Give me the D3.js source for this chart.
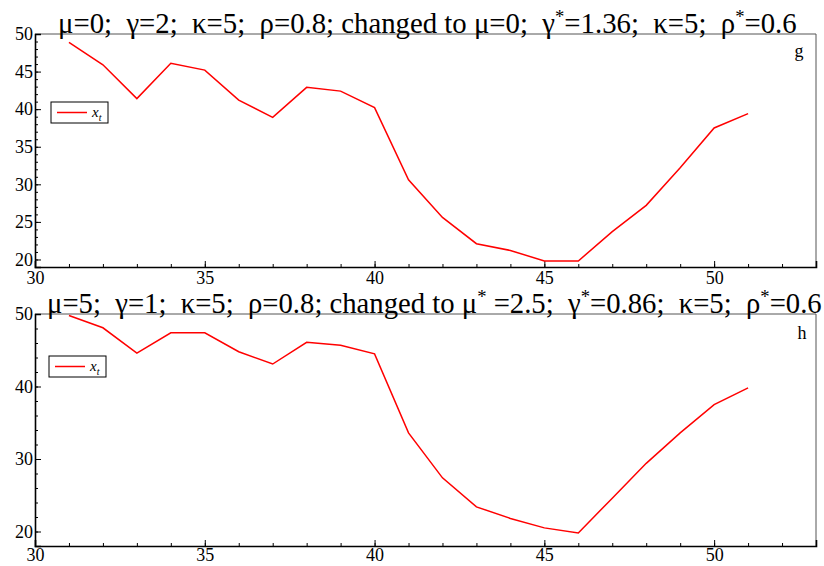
<!DOCTYPE html>
<html><head><meta charset="utf-8">
<script src="https://cdn.jsdelivr.net/npm/d3@7"></script>
<style>
body{margin:0;background:#fff;}
svg{display:block;font-family:"Liberation Serif","Times New Roman",serif;}
svg text{font-family:"Liberation Serif","Times New Roman",serif;}
</style></head>
<body><div id="chart"></div>
<script>
// ---- data ----
const periods = [31,32,33,34,35,36,37,38,39,40,41,42,43,44,45,46,47,48,49,50,51];
const seriesG = [48.9,45.9,41.4,46.1,45.2,41.2,38.9,42.9,42.4,40.2,30.6,25.6,22.1,21.2,19.8,19.8,23.7,27.2,32.2,37.5,39.4];
const seriesH = [49.8,48.1,44.6,47.4,47.4,44.8,43.1,46.1,45.7,44.5,33.6,27.4,23.4,21.8,20.5,19.8,24.6,29.4,33.6,37.5,39.8];
const xTicks = [30,35,40,45,50];
const yTicksG = [20,25,30,35,40,45,50];
const yTicksH = [20,30,40,50];
const titleG = [["μ=0;  γ=2;  κ=5;  ρ=0.8; changed to μ=0;  γ",""],["*","sup"],["=1.36;  κ=5;  ρ",""],["*","sup"],["=0.6",""]];
const titleH = [["μ=5;  γ=1;  κ=5;  ρ=0.8; changed to μ",""],["*","sup"],[" =2.5;  γ",""],["*","sup"],["=0.86;  κ=5;  ρ",""],["*","sup"],["=0.6",""]];
const legendLabel = "x";
const legendSub = "t";

const W = 824, H = 566;
const svg = d3.select("#chart").append("svg").attr("width", W).attr("height", H);
const SERIF = "Liberation Serif";

function panel(o){
  const x = d3.scaleLinear().domain([30,53]).range([35,816]);
  const y = d3.scaleLinear().domain(o.ydom).range([o.bottom,o.top]);
  const g = svg.append("g");
  // frame top/right
  g.append("line").attr("x1",35).attr("x2",816).attr("y1",o.top).attr("y2",o.top).attr("stroke","#555").attr("stroke-width",1);
  g.append("line").attr("x1",816).attr("x2",816).attr("y1",o.top).attr("y2",o.bottom).attr("stroke","#555").attr("stroke-width",1);
  // x minor ticks
  const xa = d3.axisBottom(x).tickValues(d3.range(30,54,1)).tickSize(-3).tickFormat("");
  g.append("g").attr("transform",`translate(0,${o.bottom})`).call(xa)
    .call(s=>{s.select(".domain").remove(); s.selectAll("line").attr("stroke","#000");});
  const xM = d3.axisBottom(x).tickValues(xTicks).tickSize(-6).tickPadding(o.xpad);
  g.append("g").attr("transform",`translate(0,${o.bottom})`).call(xM)
    .call(s=>{s.attr("font-family",SERIF);
      s.select(".domain").attr("stroke","#000").attr("stroke-width",1.6);
      s.selectAll("line").attr("stroke","#000");
      s.selectAll("text").attr("font-family",SERIF).attr("font-size",18).attr("fill","#000");});
  // y minor
  const ya = d3.axisLeft(y).tickValues(d3.range(o.ydom[0],o.ydom[1]+0.01,o.minor)).tickSize(-3).tickFormat("");
  g.append("g").attr("transform","translate(35,0)").call(ya)
    .call(s=>{s.select(".domain").remove(); s.selectAll("line").attr("stroke","#000");});
  const yM = d3.axisLeft(y).tickValues(o.yticks).tickSize(-6).tickPadding(2);
  g.append("g").attr("transform","translate(35,0)").call(yM)
    .call(s=>{s.attr("font-family",SERIF);
      s.select(".domain").attr("stroke","#000").attr("stroke-width",1.6);
      s.selectAll("line").attr("stroke","#000");
      s.selectAll("text").attr("font-family",SERIF).attr("font-size",18).attr("fill","#000");});
  // line
  g.append("path").datum(o.data.map((v,i)=>[periods[i],v]))
    .attr("fill","none").attr("stroke","#ff0000").attr("stroke-width",1.5)
    .attr("d", d3.line().x(d=>x(d[0])).y(d=>y(d[1])));
  // legend
  g.append("rect").attr("x",o.leg[0]).attr("y",o.leg[1]).attr("width",57).attr("height",21)
    .attr("fill","#fff").attr("stroke","#000").attr("stroke-width",1);
  g.append("line").attr("x1",o.leg[0]+6).attr("x2",o.leg[0]+36).attr("y1",o.leg[1]+10.5).attr("y2",o.leg[1]+10.5)
    .attr("stroke","#ff0000").attr("stroke-width",1.5);
  const lt = g.append("text").attr("x",o.leg[0]+41).attr("y",o.leg[1]+15).attr("font-size",15).attr("font-style","italic");
  lt.append("tspan").text(legendLabel);
  lt.append("tspan").attr("font-size",10).attr("dy",4).text(legendSub);
  // panel letter
  g.append("text").attr("x",o.letter[0]).attr("y",o.letter[1]).attr("font-size",18).attr("text-anchor","middle").text(o.letterText);
  // title: size chosen to fit the measured target width
  const base = 24;
  const t = g.append("text").attr("x",o.title[0]).attr("y",o.title[1]).attr("font-size",base).style("white-space","pre");
  let up = false;
  o.titleParts.forEach(p=>{
    const ts = t.append("tspan").text(p[0]);
    if(p[1]==="sup"){ ts.attr("class","sup").attr("font-size",base*0.65).attr("dy",-base*0.35); up = true; }
    else if(up){ ts.attr("dy",base*0.35); up=false; }
  });
  const wNat = t.node().getComputedTextLength();
  const fs = base*o.title[2]/wNat;
  t.attr("font-size",fs);
  t.selectAll("tspan").each(function(){
    const s = d3.select(this);
    if(s.classed("sup")) s.attr("font-size",fs*0.65).attr("dy",-fs*0.35);
    else if(s.attr("dy")) s.attr("dy",fs*0.35);
  });
}

panel({ydom:[19,50], top:34, bottom:267, minor:1, yticks:yTicksG, data:seriesG, xpad:4,
  leg:[51,102], letter:[799,57], letterText:"g", title:[58,33,739], titleParts:titleG});
panel({ydom:[18,50], top:314, bottom:546, minor:2, yticks:yTicksH, data:seriesH, xpad:2,
  leg:[49,356], letter:[802,339], letterText:"h", title:[47,313,775], titleParts:titleH});
</script>
</body></html>
